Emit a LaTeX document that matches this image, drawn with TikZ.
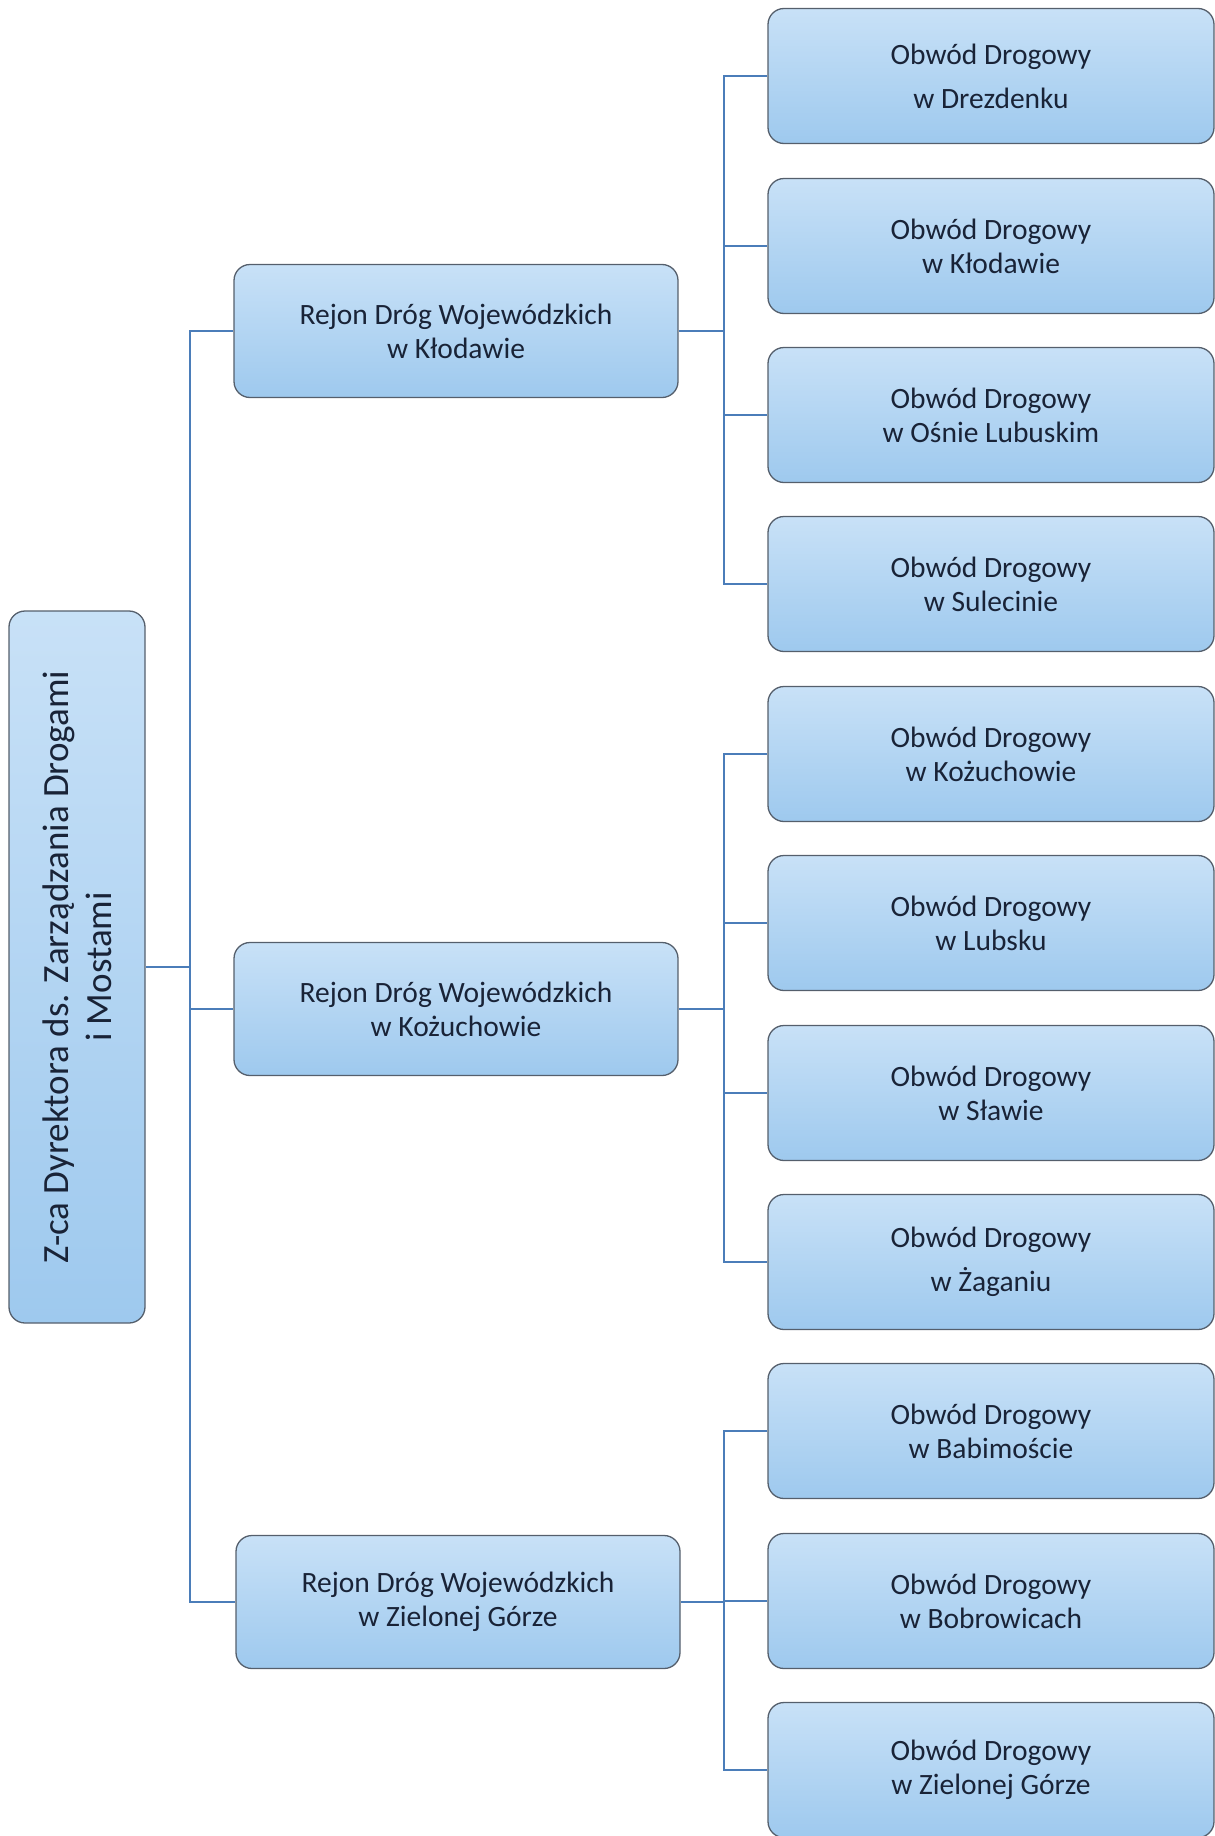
\documentclass[tikz,border=0pt]{standalone}
\usepackage{fontspec}
\setmainfont{Carlito}
\definecolor{boxtop}{RGB}{200,225,247}
\definecolor{boxbot}{RGB}{158,201,238}
\definecolor{boxline}{RGB}{85,95,108}
\definecolor{linkc}{RGB}{75,125,185}
\definecolor{txt}{RGB}{25,35,55}
\begin{document}
\begin{tikzpicture}[x=1pt,y=-1pt,
  basebox/.style={draw=boxline, line width=1.3pt, rounded corners=16pt, text=txt,
    font=\fontsize{29.5}{34}\selectfont, align=center, inner sep=0pt},
  box/.style={basebox, top color=boxtop, bottom color=boxbot},
  obw/.style={box, minimum width=446pt, minimum height=135pt},
  rej/.style={box, minimum width=444pt, minimum height=133pt},
  link/.style={draw=linkc, line width=2pt}]
\useasboundingbox (0,0) rectangle (1215,1836);

\node[basebox, rotate=90, minimum width=712pt, minimum height=136pt,
  top color=boxtop, bottom color=boxbot,
  font=\fontsize{37}{43}\selectfont] (root) at (77,967)
  {Z-ca Dyrektora ds. Zarządzania Drogami\\i Mostami};

\node[rej] (r1) at (456,331) {Rejon Dróg Wojewódzkich\\w Kłodawie};
\node[rej] (r2) at (456,1009) {Rejon Dróg Wojewódzkich\\w Kożuchowie};
\node[rej] (r3) at (458,1602) {Rejon Dróg Wojewódzkich\\w Zielonej Górze};

\node[obw] (o1) at (991,76) {Obwód Drogowy\\[10pt]w Drezdenku};
\node[obw] (o2) at (991,246) {Obwód Drogowy\\w Kłodawie};
\node[obw] (o3) at (991,415) {Obwód Drogowy\\w Ośnie Lubuskim};
\node[obw] (o4) at (991,584) {Obwód Drogowy\\w Sulecinie};
\node[obw] (o5) at (991,754) {Obwód Drogowy\\w Kożuchowie};
\node[obw] (o6) at (991,923) {Obwód Drogowy\\w Lubsku};
\node[obw] (o7) at (991,1093) {Obwód Drogowy\\w Sławie};
\node[obw] (o8) at (991,1262) {Obwód Drogowy\\[10pt]w Żaganiu};
\node[obw] (o9) at (991,1431) {Obwód Drogowy\\w Babimoście};
\node[obw] (o10) at (991,1601) {Obwód Drogowy\\w Bobrowicach};
\node[obw] (o11) at (991,1770) {Obwód Drogowy\\w Zielonej Górze};

\coordinate (tk) at (190,0);
\coordinate (bk) at (724,0);

% trunk
\draw[link] (root.south) -- (root.south -| tk);
\draw[link] (r1.west) -- (r1.west -| tk) -- (r3.west -| tk) -- (r3.west);
\draw[link] (r2.west -| tk) -- (r2.west);

% group 1
\draw[link] (r1.east) -- (r1.east -| bk);
\draw[link] (o1.west) -- (o1.west -| bk) -- (o4.west -| bk) -- (o4.west);
\draw[link] (o2.west -| bk) -- (o2.west);
\draw[link] (o3.west -| bk) -- (o3.west);

% group 2
\draw[link] (r2.east) -- (r2.east -| bk);
\draw[link] (o5.west) -- (o5.west -| bk) -- (o8.west -| bk) -- (o8.west);
\draw[link] (o6.west -| bk) -- (o6.west);
\draw[link] (o7.west -| bk) -- (o7.west);

% group 3
\draw[link] (r3.east) -- (r3.east -| bk);
\draw[link] (o9.west) -- (o9.west -| bk) -- (o11.west -| bk) -- (o11.west);
\draw[link] (o10.west -| bk) -- (o10.west);
\end{tikzpicture}
\end{document}
